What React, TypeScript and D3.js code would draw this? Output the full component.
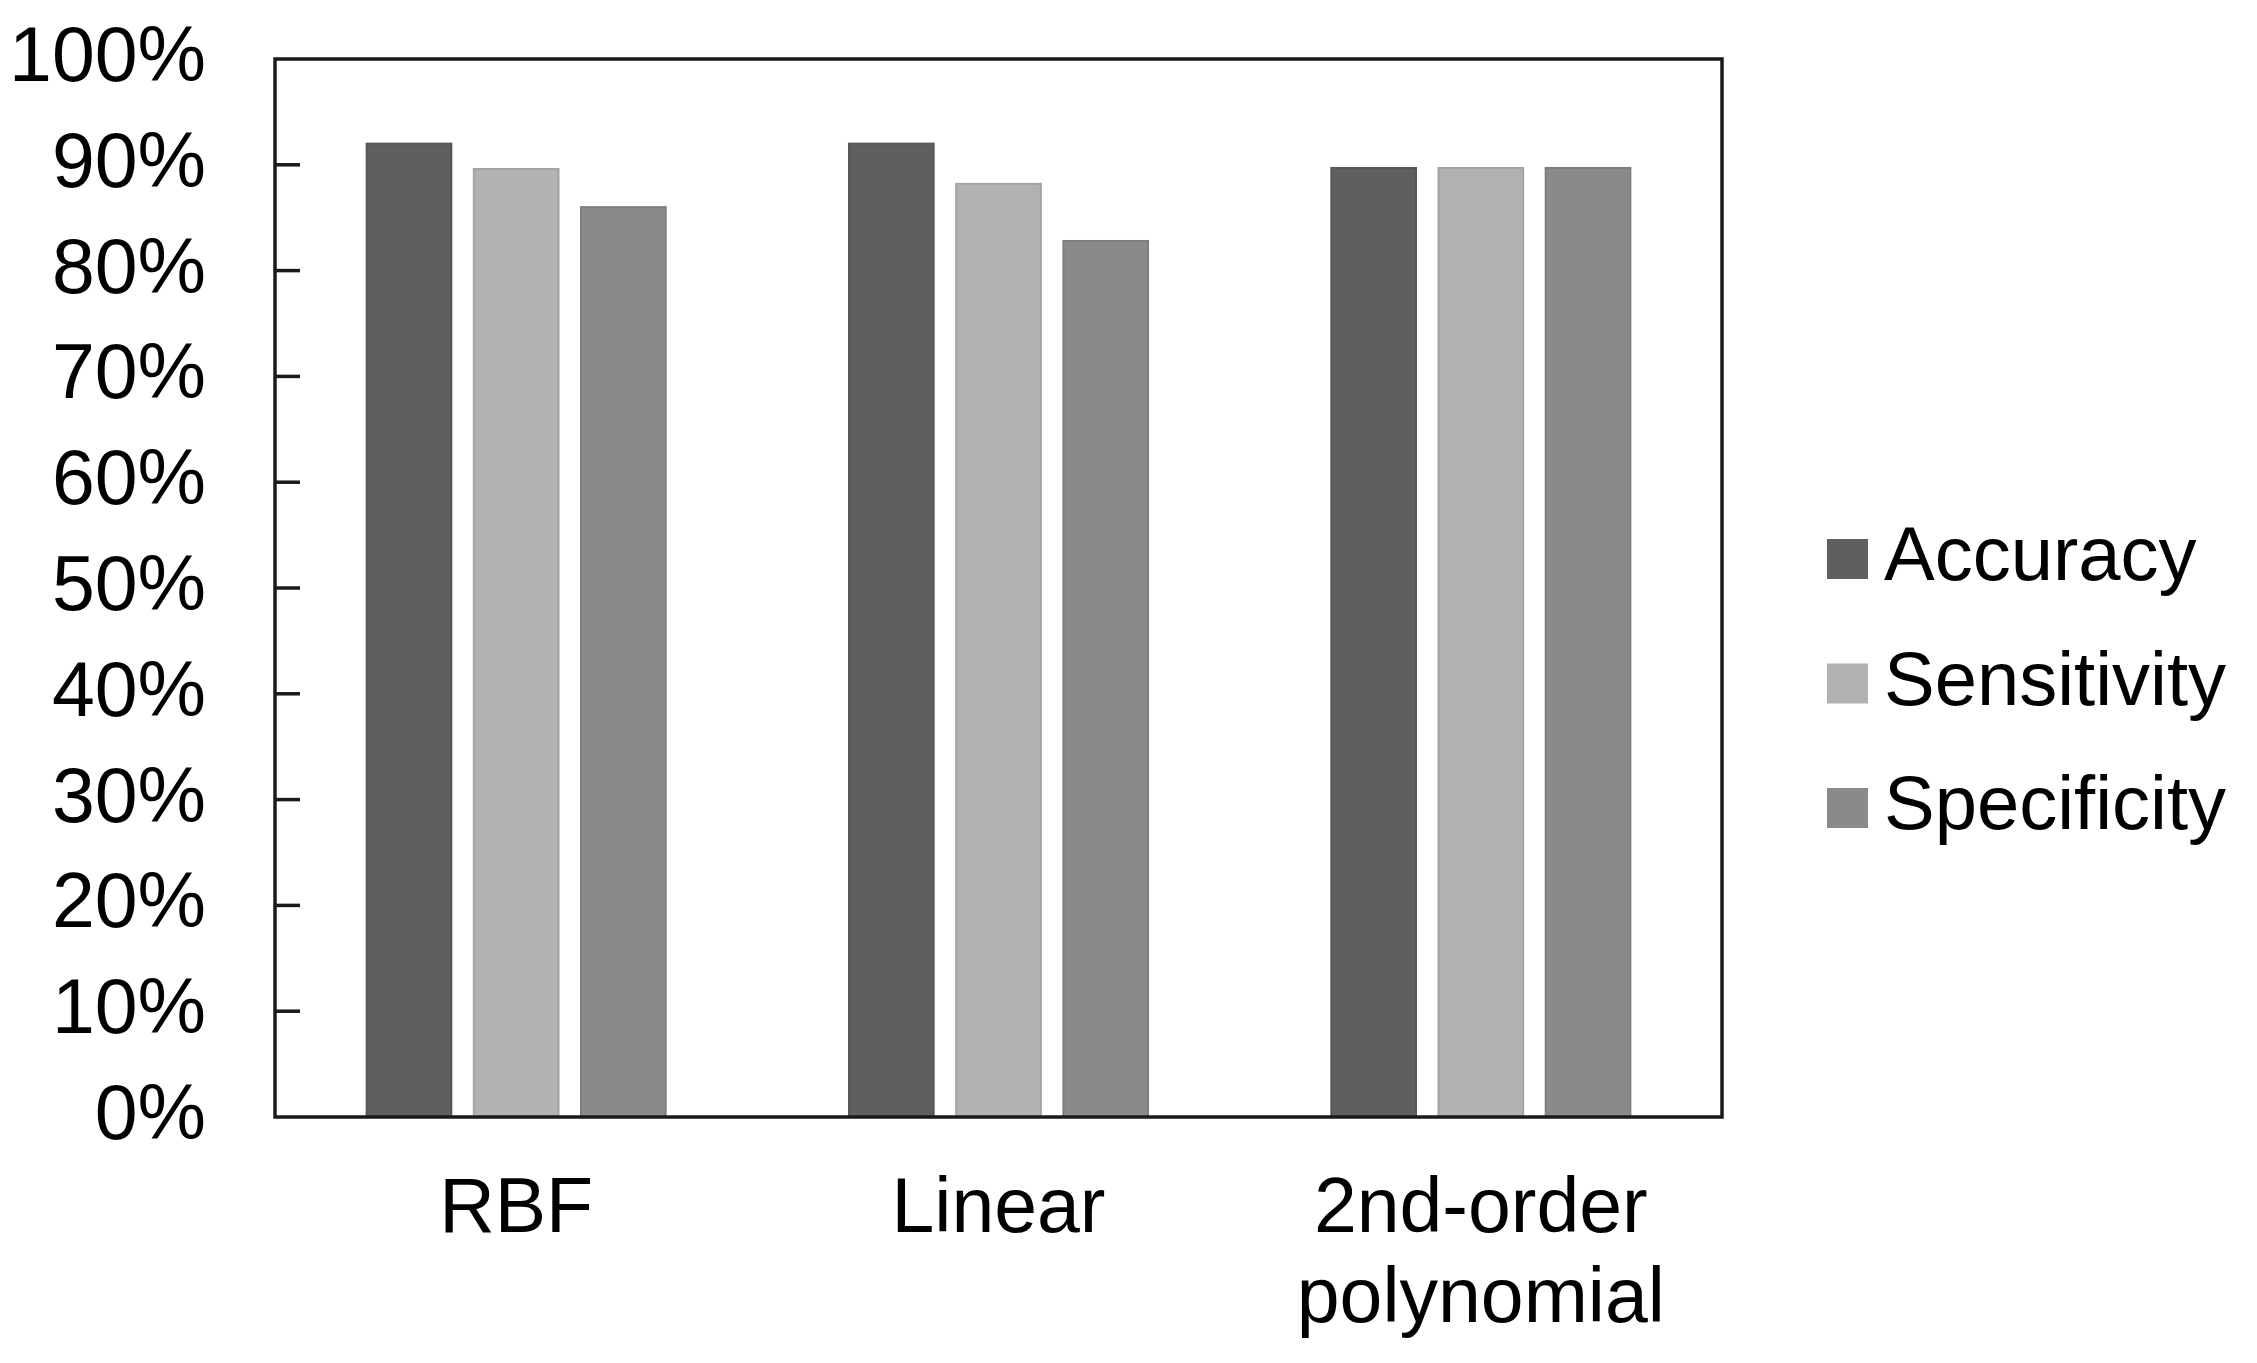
import React from "react";
import * as d3 from "d3";

const categories = ["RBF", "Linear", "2nd-order polynomial"];
const categoryLines = [["RBF"], ["Linear"], ["2nd-order", "polynomial"]];
const seriesNames = ["Accuracy", "Sensitivity", "Specificity"];
const accuracy = [0.92, 0.92, 0.897];
const sensitivity = [0.896, 0.882, 0.897];
const specificity = [0.86, 0.828, 0.897];
const seriesValues = [accuracy, sensitivity, specificity];
const seriesColors = ["#5f5f5f", "#b2b2b2", "#8a8a8a"];
const yTicks = [0, 0.1, 0.2, 0.3, 0.4, 0.5, 0.6, 0.7, 0.8, 0.9, 1.0];

const W = 2257;
const H = 1363;
const plot = { left: 275, right: 1722, top: 59, bottom: 1117 };
const FONT = "'Liberation Sans', Arial, sans-serif";

export default function App() {
  const x0 = d3
    .scaleBand<string>()
    .domain(categories)
    .range([plot.left, plot.right])
    .paddingInner(0.38)
    .paddingOuter(0.19);
  const x1 = d3
    .scaleBand<string>()
    .domain(seriesNames)
    .range([0, x0.bandwidth()])
    .paddingInner(0.21);
  const y = d3.scaleLinear().domain([0, 1]).range([plot.bottom, plot.top]);
  const fmt = d3.format(".0%");

  return (
    <svg
      width={W}
      height={H}
      viewBox={`0 0 ${W} ${H}`}
      style={{ position: "absolute", left: 0, top: 0, background: "#fff" }}
    >
      <rect x={0} y={0} width={W} height={H} fill="#fff" />
      {/* bars */}
      {categories.map((c, ci) => (
        <g key={c}>
          {seriesNames.map((s, si) => {
            const v = seriesValues[si][ci];
            const col = seriesColors[si];
            return (
              <rect
                key={s}
                x={(x0(c) ?? 0) + (x1(s) ?? 0)}
                y={y(v)}
                width={x1.bandwidth()}
                height={y(0) - y(v)}
                fill={col}
                stroke={d3.color(col)!.darker(0.25).formatHex()}
                strokeWidth={2}
              />
            );
          })}
        </g>
      ))}
      {/* frame */}
      <rect
        x={plot.left}
        y={plot.top}
        width={plot.right - plot.left}
        height={plot.bottom - plot.top}
        fill="none"
        stroke="#1a1a1a"
        strokeWidth={3.5}
      />
      {/* y ticks */}
      {yTicks.map((t) => (
        <g key={t}>
          {t > 0 && t < 1 && (
            <line
              x1={plot.left}
              x2={plot.left + 25}
              y1={y(t)}
              y2={y(t)}
              stroke="#1a1a1a"
              strokeWidth={3.5}
            />
          )}
          <text
            x={206}
            y={y(t) + 22}
            textAnchor="end"
            fontFamily={FONT}
            fontSize={77}
            fill="#000"
          >
            {fmt(t)}
          </text>
        </g>
      ))}
      {/* category labels */}
      {categories.map((c, ci) => (
        <text
          key={c}
          x={(x0(c) ?? 0) + x0.bandwidth() / 2}
          y={1232}
          textAnchor="middle"
          fontFamily={FONT}
          fontSize={77}
          fill="#000"
        >
          {categoryLines[ci].map((ln, li) => (
            <tspan key={li} x={(x0(c) ?? 0) + x0.bandwidth() / 2} dy={li === 0 ? 0 : 90}>
              {ln}
            </tspan>
          ))}
        </text>
      ))}
      {/* legend */}
      {seriesNames.map((s, si) => {
        const cy = 559 + si * 124.5;
        return (
          <g key={s}>
            <rect x={1827} y={cy - 20} width={41} height={40} fill={seriesColors[si]} />
            <text
              x={1884}
              y={cy + 21}
              fontFamily={FONT}
              fontSize={76}
              fill="#000"
            >
              {s}
            </text>
          </g>
        );
      })}
    </svg>
  );
}
